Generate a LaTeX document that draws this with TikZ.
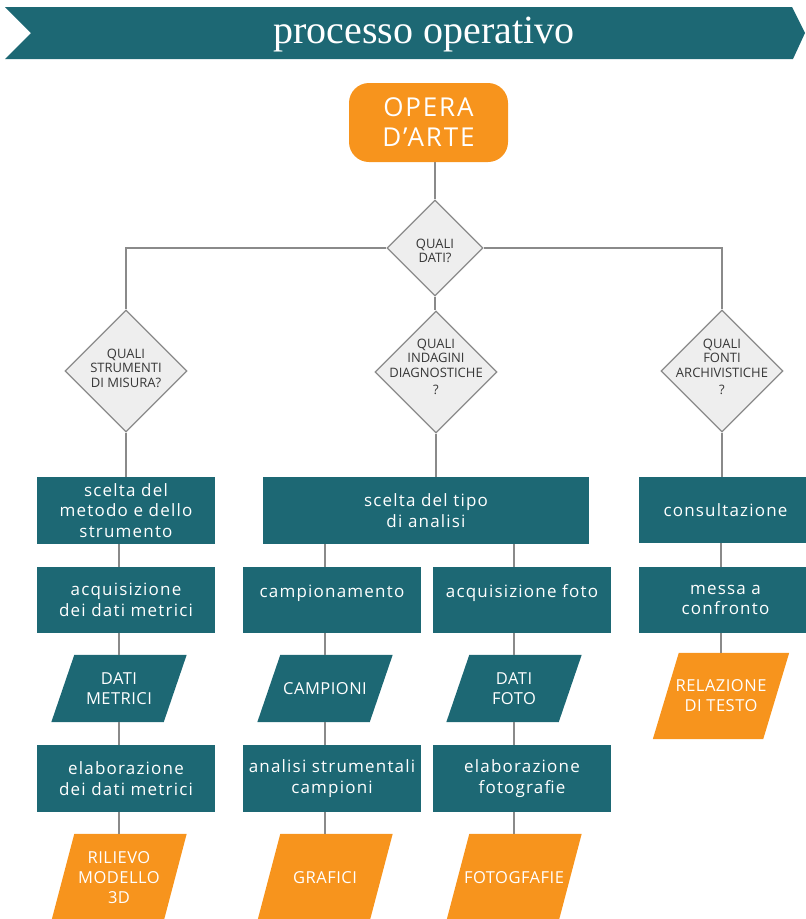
\documentclass[tikz,border=0pt]{standalone}
\usepackage{fontspec}
\usetikzlibrary{shapes.geometric,backgrounds}
\newfontfamily\boxfont{Open Sans}[LetterSpace=7]
\newfontfamily\capfont{Open Sans}[LetterSpace=3]
\newfontfamily\diafont{Open Sans}[LetterSpace=0]
\newfontfamily\headfont{Liberation Serif}
\definecolor{tealc}{RGB}{29,104,116}
\definecolor{orangec}{RGB}{247,148,29}
\definecolor{diafill}{RGB}{238,238,238}
\definecolor{linegray}{RGB}{138,138,138}
\definecolor{diatext}{RGB}{55,55,55}
% slanted fill behind a parallelogram node: #1 node, #2 colour, #3 half slant
\newcommand\parafill[3]{%
  \fill[#2] ([xshift=#3]#1.north west) -- ([xshift=#3]#1.north east)
    -- ([xshift=-#3]#1.south east) -- ([xshift=-#3]#1.south west) -- cycle;}
\begin{document}
\begin{tikzpicture}[x=1pt,y=-1pt,
  conn/.style={draw=linegray,line width=1.5pt},
  tbox/.style={fill=tealc,text=white,align=center,inner sep=0pt,
    minimum height=66.5,font=\boxfont\fontsize{17}{20.5}\selectfont},
  para/.style={text=white,align=center,inner sep=0pt,minimum width=112,
    minimum height=67,font=\capfont\fontsize{16.5}{20}\selectfont},
  qdia/.style={diamond,aspect=1,draw=linegray,line width=1.2pt,fill=diafill,
    inner sep=0pt,minimum width=#1,minimum height=#1},
  qtxt/.style={text=diatext,align=center,inner sep=0pt,
    font=\diafont\fontsize{13}{14.5}\selectfont},
]
\useasboundingbox (0,0) rectangle (806,919);

% title banner
\fill[tealc] (5,7) -- (792,7) -- (805,33) -- (793,59) -- (5,59) -- (31,33) -- cycle;
\node[text=white,inner sep=0pt,font=\headfont\fontsize{40}{40}\selectfont]
  (title) at (424,35) {processo operativo};

% start node
\node[fill=orangec,rounded corners=20pt,minimum width=159,minimum height=79,
  inner sep=0pt,text=white,align=center,font=\boxfont\fontsize{26}{30}\selectfont]
  (op) at (428.5,122.5) {OPERA\\D’ARTE};

% questions
\node[qdia=96] (d0) at (435,248) {};
\node[qtxt] (t0) at (435,251) {QUALI\\DATI?};
\node[qdia=122] (d1) at (126,371) {};
\node[qtxt] (t1) at (126,368) {QUALI\\STRUMENTI\\DI MISURA?};
\node[qdia=122] (d2) at (436,372) {};
\node[qtxt] (t2) at (436,367) {QUALI\\INDAGINI\\DIAGNOSTICHE\\[3pt]?};
\node[qdia=122] (d3) at (722,371) {};
\node[qtxt] (t3) at (722,367) {QUALI\\FONTI\\ARCHIVISTICHE\\[3pt]?};

% left column
\node[tbox,minimum width=178] (b1) at (126,510.5) {scelta del\\metodo e dello\\strumento};
\node[tbox,minimum width=178] (b2) at (126,600) {acquisizione\\dei dati metrici};
\node[para] (m1) at (119,688.5) {DATI\\METRICI};
\node[tbox,minimum width=178] (b3) at (126,778.5) {elaborazione\\dei dati metrici};
\node[para,minimum height=87] (rl) at (119,877.5) {RILIEVO\\MODELLO\\3D};

% middle column
\node[tbox,minimum width=326] (bt) at (426,510.5) {scelta del tipo\\di analisi};
\node[tbox,minimum width=178,text depth=18pt] (ca) at (332,600) {campionamento};
\node[tbox,minimum width=178,text depth=18pt] (af) at (522,600) {acquisizione foto};
\node[para] (pc) at (325,688.5) {CAMPIONI};
\node[para] (pf) at (514,688.5) {DATI\\FOTO};
\node[tbox,minimum width=178] (an) at (332,778.5) {analisi strumentali\\campioni};
\node[tbox,minimum width=178] (ef) at (522,778.5) {elaborazione\\fotografie};
\node[para,minimum height=87] (gr) at (325,877.5) {GRAFICI};
\node[para,minimum height=87] (fg) at (514,877.5) {FOTOGFAFIE};

% right column
\node[tbox,minimum width=173] (cs) at (725.5,510) {consultazione};
\node[tbox,minimum width=173] (mc) at (725.5,600) {messa a\\confronto};
\node[para,minimum width=110,minimum height=86] (rt) at (721,696) {RELAZIONE\\DI TESTO};

\begin{scope}[on background layer]
  \parafill{m1}{tealc}{11.5pt}
  \parafill{pc}{tealc}{11.5pt}
  \parafill{pf}{tealc}{11.5pt}
  \parafill{rl}{orangec}{11.5pt}
  \parafill{gr}{orangec}{11.5pt}
  \parafill{fg}{orangec}{11.5pt}
  \parafill{rt}{orangec}{13pt}

  % connectors
  \draw[conn] (d0.north |- op.south) -- (d0.north);
  \draw[conn] (d0.west) -| (d1.north);
  \draw[conn] (d0.east) -| (d3.north);
  \draw[conn] (d0.south) -- (d0.south |- d2.north);
  \draw[conn] (d1.south) -- (d1.south |- b1.north);
  \draw[conn] (d2.south) -- (d2.south |- bt.north);
  \draw[conn] (d3.south) -- (d3.south |- cs.north);

  \draw[conn] (b1.south -| m1) -- (b2.north -| m1);
  \draw[conn] (b2.south -| m1) -- (m1.north);
  \draw[conn] (m1.south) -- (b3.north -| m1);
  \draw[conn] (b3.south -| m1) -- (rl.north);

  \draw[conn] (bt.south -| pc) -- (ca.north -| pc);
  \draw[conn] (ca.south -| pc) -- (pc.north);
  \draw[conn] (pc.south) -- (an.north -| pc);
  \draw[conn] (an.south -| pc) -- (gr.north);

  \draw[conn] (bt.south -| pf) -- (af.north -| pf);
  \draw[conn] (af.south -| pf) -- (pf.north);
  \draw[conn] (pf.south) -- (ef.north -| pf);
  \draw[conn] (ef.south -| pf) -- (fg.north);

  \draw[conn] (cs.south -| rt) -- (mc.north -| rt);
  \draw[conn] (mc.south -| rt) -- (rt.north);
\end{scope}
\end{tikzpicture}
\end{document}
